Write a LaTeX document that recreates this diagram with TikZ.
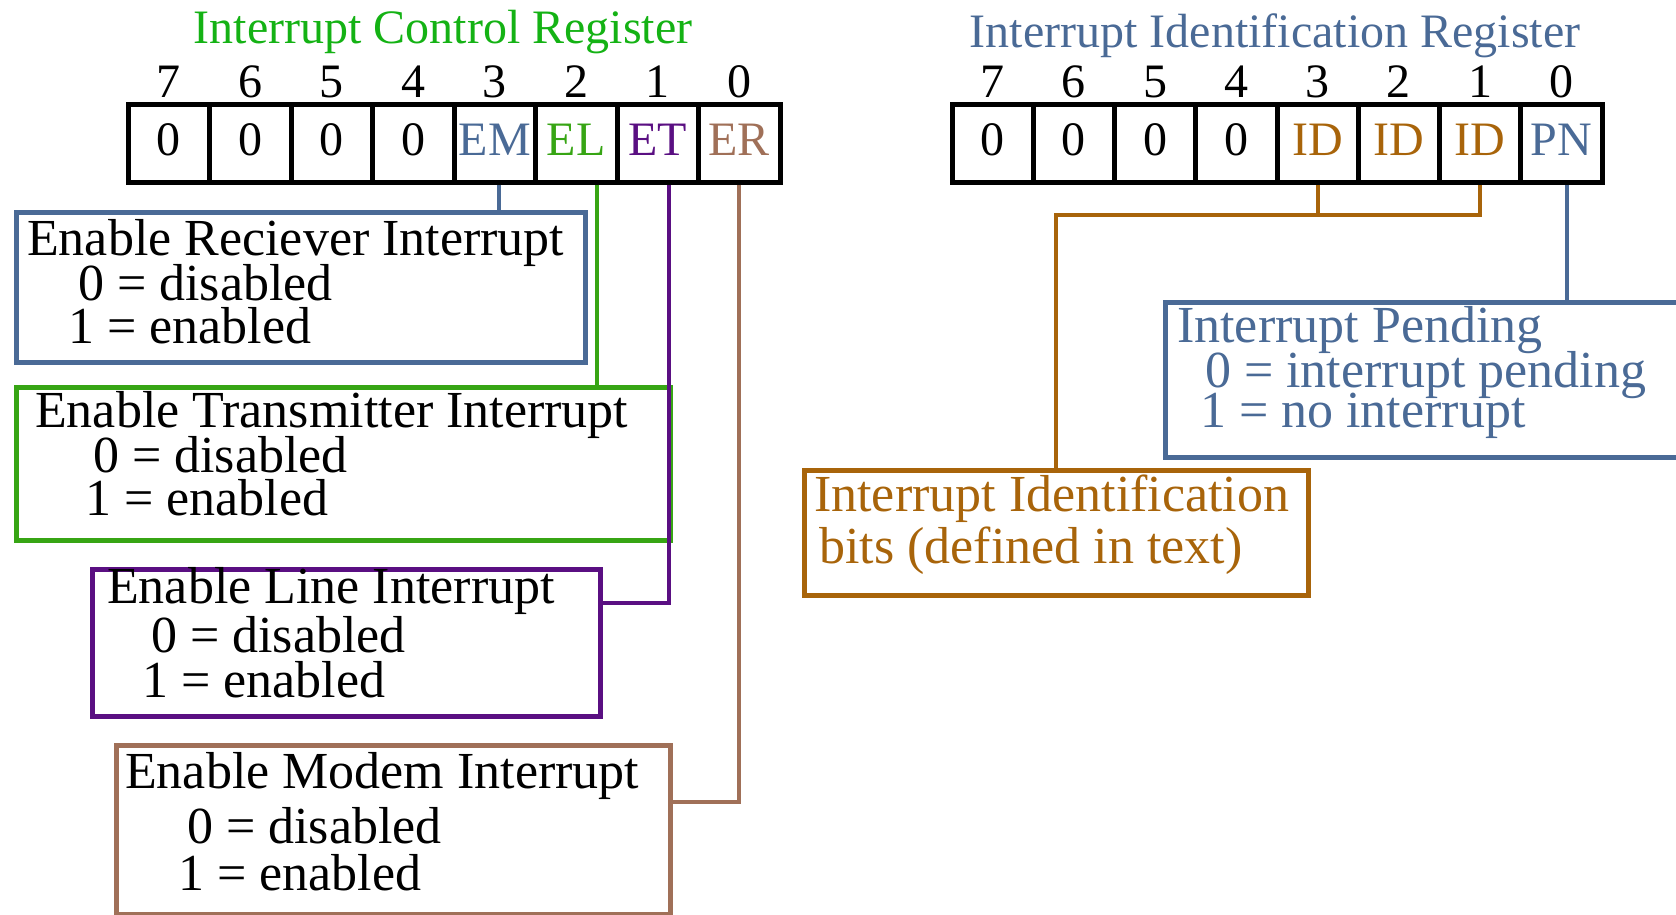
\documentclass[tikz,border=0pt]{standalone}
\usepackage{fontspec}
\setmainfont{Liberation Serif}
\definecolor{ctlgreen}{RGB}{20,178,20}
\definecolor{slate}{RGB}{74,106,150}
\definecolor{txgreen}{RGB}{55,165,20}
\definecolor{lnpurple}{RGB}{90,15,130}
\definecolor{mdbrown}{RGB}{160,112,88}
\definecolor{idorange}{RGB}{168,100,10}
\newcommand{\regfont}{\fontsize{48}{50}\selectfont}
\newcommand{\boxfont}{\fontsize{52}{45}\selectfont\lineskiplimit=-100pt}
\tikzset{
  cell/.style={draw, line width=5pt, minimum width=81.5pt, minimum height=78pt,
    inner sep=0pt, text height=32pt, text depth=8pt, font=\regfont},
  bitnum/.style={anchor=base, font=\regfont},
  descbox/.style={draw, line width=4.5pt, anchor=north west, inner sep=0pt},
  desctext/.style={anchor=north west, inner sep=0pt, align=left, font=\boxfont},
  link/.style={line width=4pt}
}
\begin{document}
\begin{tikzpicture}[x=1pt,y=1pt]
        \useasboundingbox (0,0) rectangle (1676,-914);
        % interrupt control register
        \node[anchor=base, font=\regfont, text=ctlgreen] (ictitle) at (443,-43) {Interrupt Control Register};
        \foreach \bit/\val/\col [count=\i from 0] in {7/0/black,6/0/black,5/0/black,4/0/black,3/EM/slate,2/EL/txgreen,1/ET/lnpurple,0/ER/mdbrown} {
            \node[cell, text=\col] (l\bit) at ({128+81.5*(\i+0.5)},-143) {\val};
            \node[bitnum] (lb\bit) at ({128+81.5*(\i+0.5)},-97) {\bit};
        }
        \node[descbox, draw=slate, minimum width=569pt, minimum height=150pt] (rxbox) at (14,-210) {};
        \node[desctext] (rxtext) at (27,-219.5) {Enable Reciever Interrupt\\ \hspace*{51pt}0 = disabled\\[-2pt] \hspace*{41pt}1 = enabled};
        \node[descbox, draw=txgreen, minimum width=654pt, minimum height=153pt] (txbox) at (14,-385) {};
        \node[desctext] (txtext) at (35,-391.5) {Enable Transmitter Interrupt\\ \hspace*{58pt}0 = disabled\\[-2pt] \hspace*{50pt}1 = enabled};
        \node[descbox, draw=lnpurple, minimum width=508pt, minimum height=147pt] (lnbox) at (90,-567) {};
        \node[desctext] (lntext) at (107,-567.5) {Enable Line Interrupt\\[4pt] \hspace*{44pt}0 = disabled\\ \hspace*{35pt}1 = enabled};
        \node[descbox, draw=mdbrown, minimum width=554pt, minimum height=169pt] (mdbox) at (114,-743) {};
        \node[desctext] (mdtext) at (125,-752.5) {Enable Modem Interrupt\\[10pt] \hspace*{62pt}0 = disabled\\[2pt] \hspace*{53pt}1 = enabled};
        \draw[link, slate] ([xshift=4pt]l3.south) -- ([xshift=4pt]l3.south |- rxbox.north);
        \draw[link, txgreen] ([xshift=21pt]l2.south) -- ([xshift=21pt]l2.south |- txbox.north);
        \draw[link, lnpurple] ([xshift=11pt]l1.south) |- ([yshift=-36pt]lnbox.north east);
        \draw[link, mdbrown] (l0.south) |- ([yshift=-59pt]mdbox.north east);
        % interrupt identification register
        \node[anchor=base, font=\regfont, text=slate] (iititle) at (1275,-47) {Interrupt Identification Register};
        \foreach \bit/\val/\col [count=\i from 0] in {7/0/black,6/0/black,5/0/black,4/0/black,3/ID/idorange,2/ID/idorange,1/ID/idorange,0/PN/slate} {
            \node[cell, minimum width=81.25pt, text=\col] (r\bit) at ({952+81.25*(\i+0.5)},-143.5) {\val};
            \node[bitnum] (rb\bit) at ({952+81.25*(\i+0.5)},-97) {\bit};
        }
        \node[descbox, draw=slate, minimum width=560pt, minimum height=155pt] (pnbox) at (1163,-300) {};
        \node[desctext, text=slate] (pntext) at (1177,-306.5) {Interrupt Pending\\ \hspace*{28pt}0 = interrupt pending\\[-5pt] \hspace*{23pt}1 = no interrupt};
        \node[descbox, draw=idorange, minimum width=504pt, minimum height=125pt] (idbox) at (802,-468) {};
        \node[desctext, text=idorange] (idtext) at (814,-474.5) {Interrupt Identification\\[7pt] \hspace*{5pt}bits (defined in text)};
        \coordinate (idbus) at (idbox.north |- 0,-215);
        \draw[link, idorange] (r1.south) |- (idbus) -- (idbox.north);
        \draw[link, idorange] (r3.south) -- (r3.south |- idbus);
        \draw[link, slate] ([xshift=6pt]r0.south) -- ([xshift=6pt]r0.south |- pnbox.north);
    \end{tikzpicture}
\end{document}
